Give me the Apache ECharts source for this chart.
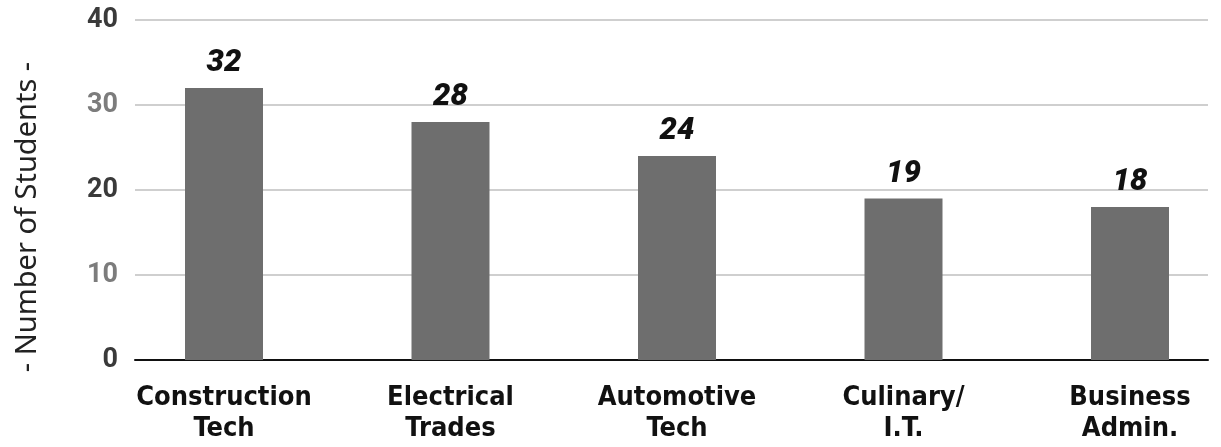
<!DOCTYPE html>
<html>
<head>
    <meta charset="utf-8">
    <title>students by program</title>
    <style>
        html, body { margin: 0; padding: 0; background: #fff; }
        #main { width: 1221px; height: 447px; }
    </style>
</head>
<body>
<div id="main"></div>

<script src="https://cdn.jsdelivr.net/npm/echarts@6/dist/echarts.min.js"></script>
<script>
    // 数据
    var programs = ['Construction\nTech', 'Electrical\nTrades', 'Automotive\nTech', 'Culinary/\nI.T.', 'Business\nAdmin.'];
    var students = [32, 28, 24, 19, 18];
    var yTicks = [0, 10, 20, 30, 40];
    var yTitle = '- Number of Students -';

    var narrow = '"DejaVu Sans Condensed", "Liberation Sans Narrow", Roboto, sans-serif';

    var myChart = echarts.init(document.getElementById('main'));

    var option = {
        animation: false,
        backgroundColor: '#fff',
        grid: [
            // grid 0: gridlines, y labels and base line
            { left: 135, right: 13, top: 20, bottom: 87 },
            // grid 1: bars + category labels, first/last bar centred on the edges
            { left: 224, right: 91, top: 20, bottom: 87 }
        ],
        xAxis: [
            {
                gridIndex: 0,
                type: 'category',
                data: programs,
                axisLine: { show: true, lineStyle: { color: '#111', width: 2 } },
                axisTick: { show: false },
                axisLabel: { show: false },
                splitLine: { show: false }
            },
            {
                gridIndex: 1,
                type: 'category',
                data: programs,
                boundaryGap: false,
                axisLine: { show: false },
                axisTick: { show: false },
                axisLabel: {
                    interval: 0,
                    margin: 22,
                    fontFamily: narrow,
                    fontWeight: 'bold',
                    fontSize: 27,
                    lineHeight: 31,
                    color: '#111'
                }
            }
        ],
        yAxis: [
            {
                gridIndex: 0,
                type: 'value',
                min: yTicks[0],
                max: yTicks[yTicks.length - 1],
                interval: 10,
                name: yTitle,
                nameLocation: 'middle',
                nameRotate: 90,
                nameGap: 93,
                nameTextStyle: {
                    fontFamily: '"Noto Sans", sans-serif',
                    fontSize: 29,
                    color: '#222',
                    padding: [0, 54, 0, 0]
                },
                axisLine: { show: false },
                axisTick: { show: false },
                axisLabel: {
                    margin: 17,
                    formatter: function (v) {
                        return (v / 10) % 2 === 1 ? '{lt|' + v + '}' : '{dk|' + v + '}';
                    },
                    rich: {
                        dk: { fontFamily: 'Roboto, sans-serif', fontWeight: 'bold', fontSize: 27, color: '#3a3a3a' },
                        lt: { fontFamily: 'Roboto, sans-serif', fontWeight: 'bold', fontSize: 27, color: '#7c7c7c' }
                    }
                },
                splitLine: { lineStyle: { color: '#cfcfcf', width: 2 } }
            },
            {
                gridIndex: 1,
                type: 'value',
                min: yTicks[0],
                max: yTicks[yTicks.length - 1],
                interval: 10,
                show: false,
                splitLine: { show: false }
            }
        ],
        series: [
            {
                type: 'bar',
                xAxisIndex: 1,
                yAxisIndex: 1,
                clip: false,
                data: students,
                barWidth: 78,
                itemStyle: { color: '#6e6e6e' },
                label: {
                    show: true,
                    position: 'top',
                    distance: 9,
                    fontFamily: 'Roboto, sans-serif',
                    fontWeight: 900,
                    fontStyle: 'italic',
                    fontSize: 31,
                    color: '#111'
                }
            }
        ]
    };

    myChart.setOption(option);
</script>
</body>
</html>
